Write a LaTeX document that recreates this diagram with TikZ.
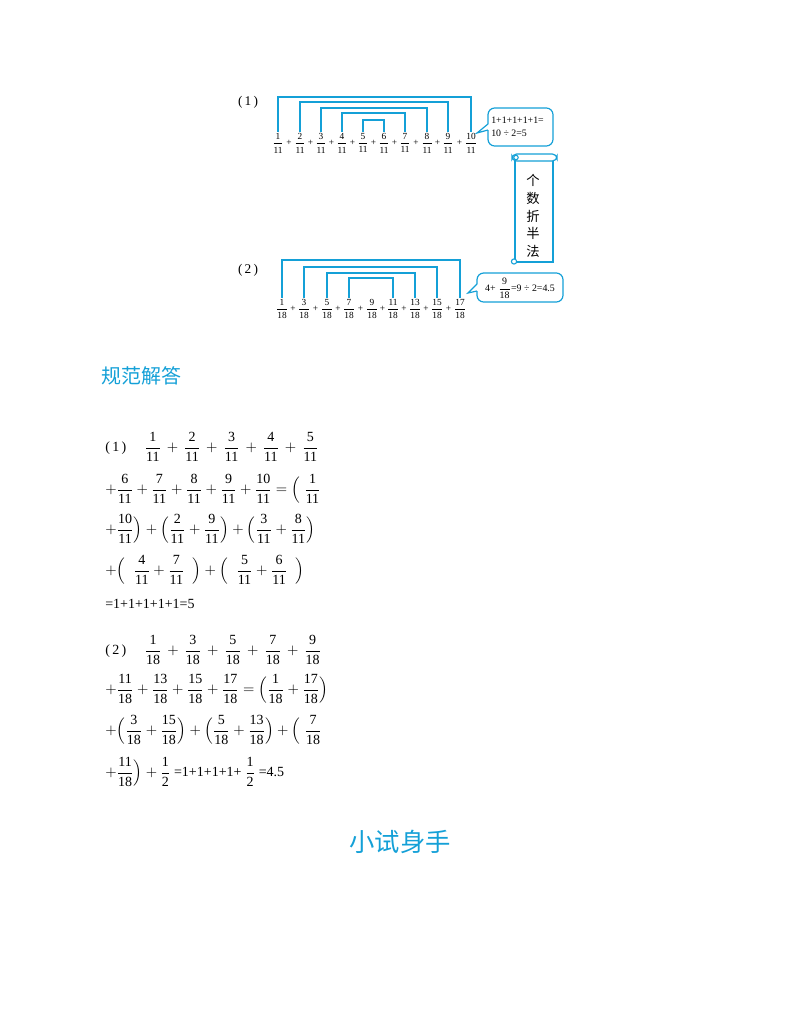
\documentclass[tikz,border=0pt]{standalone}
\usepackage{amsmath}
\usepackage{fontspec}
\usetikzlibrary{calc}
\setmainfont{Liberation Serif}
\newfontfamily\cjk{Noto Sans CJK SC}
\definecolor{cy}{RGB}{20,160,215}
\newcommand\Fr[2]{\genfrac{}{}{0.4pt}{0}{\text{#1}}{\text{#2}}}
\begin{document}
\begin{tikzpicture}[x=0.75pt,y=-0.75pt,
  tf/.style={inner sep=0.6pt,font=\fontsize{7}{8}\selectfont},
  br/.style={draw=cy,line width=1.1pt},
  sol/.style={anchor=west,inner sep=0pt,font=\fontsize{10.5}{12}\selectfont},
  lab/.style={font=\fontsize{10}{12}\selectfont,inner sep=0pt}]
\useasboundingbox (0,0) rectangle (800,1035);
% ---- part (1) diagram
\node[lab] (l1) at (248,102) {(\,1\,)};
\foreach \i/\x in {1/278,2/300,3/321,4/342,5/363,6/384,7/405,8/427,9/448,10/471}{
  \node[tf] (a\i) at (\x,143) {$\Fr{\i}{11}$};}
\foreach \i/\j in {1/2,2/3,3/4,4/5,5/6,6/7,7/8,8/9,9/10}{
  \node[tf] (pa\i) at ($(a\i)!0.5!(a\j)$) {+};}
\foreach \i/\j/\h in {1/10/97,2/9/102,3/8/108,4/7/113,5/6/120}{
  \draw[br] (a\i.north) -- (a\i.north |- 0,\h) -- (a\j.north |- 0,\h) -- (a\j.north);}
\draw[cy,line width=0.9pt,rounded corners=5] (488,124) -- (488,108) -- (553,108) -- (553,146) -- (488,146) -- (488,130);
\draw[cy,line width=0.9pt] (488,130) -- (477,133) -- (488,124);
\node[font=\fontsize{7.4}{10}\selectfont,align=left,inner sep=0pt,anchor=west] (c1) at (491,127) {1+1+1+1+1=\\10 ÷ 2=5};
% ---- scroll
\draw[cy,line width=0.9pt,fill=white] (515,160) -- (515,262) -- (553,262) -- (553,160);
\draw[cy,line width=0.9pt,fill=white,rounded corners=3.5] (512,154) rectangle (557,161);
\draw[cy,line width=0.8pt] (516,157.5) circle (2.2);
\draw[cy,line width=0.8pt,fill=white] (514,261.5) circle (2.6);
\node[font=\cjk\fontsize{10}{12}\selectfont,inner sep=0pt] (sc) at (533,216) {\shortstack{个\\[1pt]数\\[1pt]折\\[1pt]半\\[1pt]法}};
% ---- part (2) diagram
\node[lab] (l2) at (248,270) {(\,2\,)};
\foreach \i/\n/\x in {1/1/282,2/3/304,3/5/327,4/7/349,5/9/372,6/11/393,7/13/415,8/15/437,9/17/460}{
  \node[tf] (b\i) at (\x,309) {$\Fr{\n}{18}$};}
\foreach \i/\j in {1/2,2/3,3/4,4/5,5/6,6/7,7/8,8/9}{
  \node[tf] (pb\i) at ($(b\i)!0.5!(b\j)$) {+};}
\foreach \i/\j/\h in {1/9/260,2/8/267,3/7/273,4/6/278}{
  \draw[br] (b\i.north) -- (b\i.north |- 0,\h) -- (b\j.north |- 0,\h) -- (b\j.north);}
\draw[cy,line width=0.9pt,rounded corners=5] (477,284) -- (477,273) -- (563,273) -- (563,302) -- (477,302) -- (477,291);
\draw[cy,line width=0.9pt] (477,291) -- (468,293) -- (477,284);
\node[font=\fontsize{7.4}{9}\selectfont,inner sep=0pt] (c2) at (520,288) {4+ $\Fr{9}{18}$=9 ÷ 2=4.5};
% ---- heading
\node[font=\cjk\fontsize{15}{18}\selectfont,text=cy,anchor=west,inner sep=0pt] (h1) at (101,376) {规范解答};
% ---- solution (1)
\node[sol] (s1) at (105,447) {(\,1\,)\hspace{1.3em}$\Fr{1}{11}\,+\,\Fr{2}{11}\,+\,\Fr{3}{11}\,+\,\Fr{4}{11}\,+\,\Fr{5}{11}$};
\node[sol] (s2) at (105,489) {$+\Fr{6}{11}+\Fr{7}{11}+\Fr{8}{11}+\Fr{9}{11}+\Fr{10}{11}=\Bigl(\;\Fr{1}{11}$};
\node[sol] (s3) at (105,529) {$+\Fr{10}{11}\Bigr)+\Bigl(\Fr{2}{11}+\Fr{9}{11}\Bigr)+\Bigl(\Fr{3}{11}+\Fr{8}{11}\Bigr)$};
\node[sol] (s4) at (105,570) {$+\Bigl(\;\;\Fr{4}{11}+\Fr{7}{11}\;\;\Bigr)+\Bigl(\;\;\Fr{5}{11}+\Fr{6}{11}\;\;\Bigr)$};
\node[sol] (s5) at (105,604) {=1+1+1+1+1=5};
% ---- solution (2)
\node[sol] (t1) at (105,650) {(\,2\,)\hspace{1.3em}$\Fr{1}{18}\,+\,\Fr{3}{18}\,+\,\Fr{5}{18}\,+\,\Fr{7}{18}\,+\,\Fr{9}{18}$};
\node[sol] (t2) at (105,689) {$+\Fr{11}{18}+\Fr{13}{18}+\Fr{15}{18}+\Fr{17}{18}=\Bigl(\Fr{1}{18}+\Fr{17}{18}\Bigr)$};
\node[sol] (t3) at (105,730) {$+\Bigl(\Fr{3}{18}+\Fr{15}{18}\Bigr)+\Bigl(\Fr{5}{18}+\Fr{13}{18}\Bigr)+\Bigl(\;\Fr{7}{18}$};
\node[sol] (t4) at (105,772) {$+\Fr{11}{18}\Bigr)+\Fr{1}{2}$ =1+1+1+1+ $\Fr{1}{2}$ =4.5};
% ---- bottom heading
\node[font=\cjk\fontsize{19}{22}\selectfont,text=cy,inner sep=0pt] (h2) at (400,842) {小试身手};
\end{tikzpicture}
\end{document}
